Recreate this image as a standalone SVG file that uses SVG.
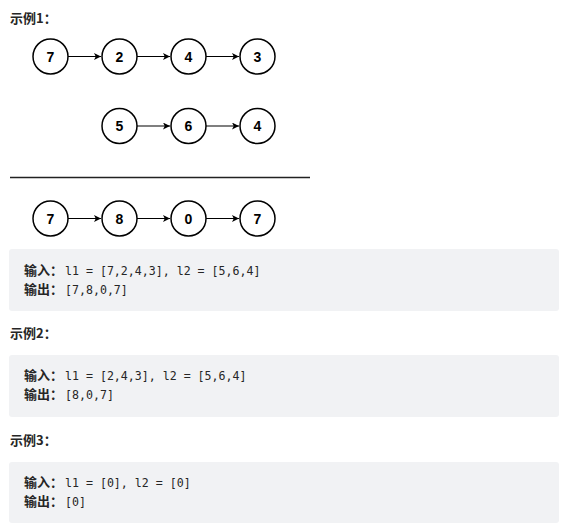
<svg xmlns="http://www.w3.org/2000/svg" width="566" height="531" viewBox="0 0 566 531">
<defs>
<marker id="ah" viewBox="0 0 10 10" refX="10" refY="5" markerWidth="7" markerHeight="7" markerUnits="userSpaceOnUse" orient="auto">
<path d="M0,0 L10,5 L0,10 L2.5,5 Z" fill="#000"/>
</marker>
</defs>
<style>
.n circle{fill:#fff;stroke:#000;stroke-width:1.5}
.n text{font-family:"Liberation Sans",Arial,sans-serif;font-weight:bold;font-size:14px;text-anchor:middle;fill:#000}
.c line{stroke:#000;stroke-width:1.2;marker-end:url(#ah)}
.h{font-family:"Noto Sans CJK SC","Noto Sans",sans-serif;font-weight:bold;font-size:13px;fill:#262626}
.b{fill:#f1f2f4}
.lb{font-family:"Noto Sans CJK SC","Noto Sans",sans-serif;font-weight:bold;font-size:13px;fill:#262626}
.m{font-family:"DejaVu Sans Mono","Liberation Mono",monospace;font-size:11.6px;fill:#262626}
</style>
<rect width="566" height="531" fill="#fff"/>
<text class="h" x="10" y="23">示例1：</text>
<g class="c">
<line x1="68" y1="56.5" x2="101" y2="56.5"/>
<line x1="137" y1="56.5" x2="170" y2="56.5"/>
<line x1="206" y1="56.5" x2="239" y2="56.5"/>
<line x1="137" y1="126" x2="170" y2="126"/>
<line x1="206" y1="126" x2="239" y2="126"/>
<line x1="68" y1="218.5" x2="101" y2="218.5"/>
<line x1="137" y1="218.5" x2="170" y2="218.5"/>
<line x1="206" y1="218.5" x2="239" y2="218.5"/>
</g>
<g id="a1" class="n"><circle cx="50.5" cy="56.5" r="17.5"/><text x="50.5" y="61.5">7</text></g>
<g id="a2" class="n"><circle cx="119.5" cy="56.5" r="17.5"/><text x="119.5" y="61.5">2</text></g>
<g id="a3" class="n"><circle cx="188.5" cy="56.5" r="17.5"/><text x="188.5" y="61.5">4</text></g>
<g id="a4" class="n"><circle cx="257.5" cy="56.5" r="17.5"/><text x="257.5" y="61.5">3</text></g>
<g id="b1" class="n"><circle cx="119.5" cy="126" r="17.5"/><text x="119.5" y="131">5</text></g>
<g id="b2" class="n"><circle cx="188.5" cy="126" r="17.5"/><text x="188.5" y="131">6</text></g>
<g id="b3" class="n"><circle cx="257.5" cy="126" r="17.5"/><text x="257.5" y="131">4</text></g>
<line x1="10" y1="177.5" x2="310" y2="177.5" stroke="#222" stroke-width="1.5"/>
<g id="r1" class="n"><circle cx="50.5" cy="218.5" r="17.5"/><text x="50.5" y="223.5">7</text></g>
<g id="r2" class="n"><circle cx="119.5" cy="218.5" r="17.5"/><text x="119.5" y="223.5">8</text></g>
<g id="r3" class="n"><circle cx="188.5" cy="218.5" r="17.5"/><text x="188.5" y="223.5">0</text></g>
<g id="r4" class="n"><circle cx="257.5" cy="218.5" r="17.5"/><text x="257.5" y="223.5">7</text></g>
<g id="ex1">
<rect class="b" x="9" y="249" width="550" height="62" rx="3"/>
<text class="lb" x="24" y="275">输入：</text><text class="m" x="65" y="275">l1 = [7,2,4,3], l2 = [5,6,4]</text>
<text class="lb" x="24" y="294">输出：</text><text class="m" x="65" y="294">[7,8,0,7]</text>
</g>
<text class="h" x="10" y="338">示例2：</text>
<g id="ex2">
<rect class="b" x="9" y="355" width="550" height="62" rx="3"/>
<text class="lb" x="24" y="380">输入：</text><text class="m" x="65" y="380">l1 = [2,4,3], l2 = [5,6,4]</text>
<text class="lb" x="24" y="399">输出：</text><text class="m" x="65" y="399">[8,0,7]</text>
</g>
<text class="h" x="10" y="445">示例3：</text>
<g id="ex3">
<rect class="b" x="9" y="462" width="550" height="61" rx="3"/>
<text class="lb" x="24" y="487">输入：</text><text class="m" x="65" y="487">l1 = [0], l2 = [0]</text>
<text class="lb" x="24" y="506">输出：</text><text class="m" x="65" y="506">[0]</text>
</g>
</svg>
